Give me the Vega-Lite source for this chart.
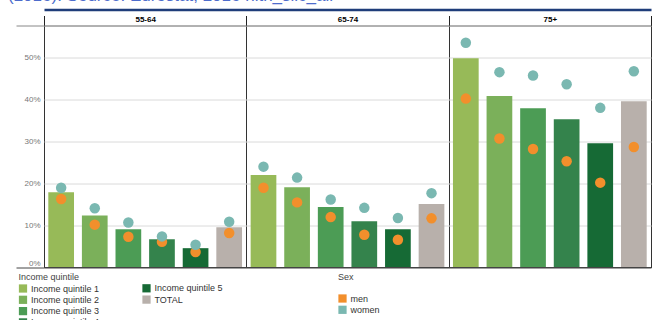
{
  "$schema": "https://vega.github.io/schema/vega-lite/v6.json",
  "width": 607,
  "height": 242,
  "autosize": "none",
  "padding": {"left": 44, "top": 25.5, "right": 6, "bottom": 52.5},
  "background": "white",
  "config": {
    "font": "Liberation Sans",
    "view": {"stroke": null},
    "legend": {
      "labelFont": "Liberation Sans",
      "labelFontSize": 9,
      "labelColor": "#333333",
      "titleFont": "Liberation Sans",
      "titleFontSize": 9,
      "titleFontWeight": "normal",
      "titleColor": "#444444",
      "symbolType": "square",
      "symbolSize": 68,
      "symbolStrokeWidth": 0,
      "padding": 0,
      "rowPadding": 1.3,
      "labelOffset": 3.5,
      "titlePadding": 2,
      "labelLimit": 0,
      "offset": 0
    }
  },
  "title": {
    "text": "(2016). Source: Eurostat, 2016 hlth_silc_all",
    "anchor": "start",
    "frame": "group",
    "dx": -36,
    "dy": 11,
    "fontSize": 17,
    "font": "Liberation Sans",
    "fontWeight": "normal",
    "color": "#4D6CCC",
    "baseline": "alphabetic",
    "offset": 3
  },
  "data": {
    "values": [
      {"age": "55-64", "q": "Income quintile 1", "total": 17.9, "men": 16.3, "women": 19.0},
      {"age": "55-64", "q": "Income quintile 2", "total": 12.4, "men": 10.2, "women": 14.1},
      {"age": "55-64", "q": "Income quintile 3", "total": 9.1, "men": 7.3, "women": 10.7},
      {"age": "55-64", "q": "Income quintile 4", "total": 6.7, "men": 6.1, "women": 7.4},
      {"age": "55-64", "q": "Income quintile 5", "total": 4.6, "men": 3.7, "women": 5.4},
      {"age": "55-64", "q": "TOTAL", "total": 9.6, "men": 8.2, "women": 10.9},
      {"age": "65-74", "q": "Income quintile 1", "total": 22.0, "men": 19.0, "women": 24.0},
      {"age": "65-74", "q": "Income quintile 2", "total": 19.1, "men": 15.5, "women": 21.4},
      {"age": "65-74", "q": "Income quintile 3", "total": 14.4, "men": 12.0, "women": 16.2},
      {"age": "65-74", "q": "Income quintile 4", "total": 11.0, "men": 7.8, "women": 14.2},
      {"age": "65-74", "q": "Income quintile 5", "total": 9.1, "men": 6.6, "women": 11.8},
      {"age": "65-74", "q": "TOTAL", "total": 15.1, "men": 11.7, "women": 17.7},
      {"age": "75+", "q": "Income quintile 1", "total": 49.8, "men": 40.2, "women": 53.5},
      {"age": "75+", "q": "Income quintile 2", "total": 40.8, "men": 30.7, "women": 46.5},
      {"age": "75+", "q": "Income quintile 3", "total": 37.9, "men": 28.2, "women": 45.7},
      {"age": "75+", "q": "Income quintile 4", "total": 35.3, "men": 25.3, "women": 43.6},
      {"age": "75+", "q": "Income quintile 5", "total": 29.6, "men": 20.2, "women": 38.0},
      {"age": "75+", "q": "TOTAL", "total": 39.6, "men": 28.7, "women": 46.7}
    ]
  },
  "layer": [
    {
      "transform": [{"filter": "indexof(['Income quintile 1','Income quintile 2','Income quintile 3','Income quintile 4'], datum.q) >= 0"}],
      "mark": {"type": "bar"},
      "encoding": {
        "x": {
          "field": "age", "type": "nominal",
          "scale": {"paddingInner": 0, "paddingOuter": 0},
          "axis": {"orient": "top", "offset": 16, "domainColor": "#1F3D7A", "domainWidth": 2.5, "ticks": false, "labels": false, "grid": false, "title": null}
        },
        "xOffset": {
          "field": "q", "type": "nominal",
          "scale": {"domain": ["Income quintile 1", "Income quintile 2", "Income quintile 3", "Income quintile 4", "Income quintile 5", "TOTAL"], "paddingInner": 0.235, "paddingOuter": 0.128}
        },
        "y": {
          "field": "total", "type": "quantitative",
          "scale": {"domain": [0, 57.6], "nice": false},
          "axis": {
            "orient": "left",
            "title": null,
            "values": [0, 10, 20, 30, 40, 50, 57.6],
            "labelExpr": "datum.value > 55 ? '' : datum.value + '%'",
            "domain": false,
            "grid": true,
            "gridColor": {"condition": {"test": "datum.value == 0", "value": "#444444"}, "value": "#DADADA"},
            "gridWidth": 1,
            "tickSize": 28,
            "tickColor": {"condition": {"test": "datum.value == 0", "value": "#444444"}, "value": "#888888"},
            "tickOpacity": {"condition": {"test": "datum.value > 0 && datum.value < 55", "value": 0}, "value": 1},
            "labelPadding": -24,
            "labelFontSize": 8,
            "labelColor": "#777777",
            "labelFlush": true
          }
        },
        "color": {
          "field": "q", "type": "nominal",
          "scale": {"domain": ["Income quintile 1", "Income quintile 2", "Income quintile 3", "Income quintile 4"], "range": ["#97BA58", "#7BB05A", "#4C9C55", "#34834C"]},
          "legend": {"title": "Income quintile", "orient": "none", "legendX": -25.5, "legendY": 247.5}
        }
      }
    },
    {
      "transform": [{"filter": "indexof(['Income quintile 5','TOTAL'], datum.q) >= 0"}],
      "mark": {"type": "bar"},
      "encoding": {
        "x": {
          "field": "age", "type": "nominal",
          "axis": {"orient": "top", "title": null, "domainColor": "#777777", "domainWidth": 1, "tickBand": "extent", "ticks": true, "tickSize": 10, "tickColor": "#222222", "tickWidth": 1, "grid": true, "gridColor": "#333333", "gridWidth": 1, "labelFontWeight": "bold", "labelFontSize": 8, "labelColor": "#000000", "labelPadding": -8, "labelAngle": 0}
        },
        "xOffset": {"field": "q", "type": "nominal"},
        "y": {"field": "total", "type": "quantitative"},
        "color": {
          "field": "q", "type": "nominal",
          "scale": {"domain": ["Income quintile 5", "TOTAL"], "range": ["#166A35", "#B8B0AB"]},
          "legend": {"title": null, "orient": "none", "legendX": 98, "legendY": 258.3}
        }
      }
    },
    {
      "transform": [{"fold": ["men", "women"], "as": ["sex", "val"]}],
      "mark": {"type": "circle", "size": 110, "opacity": 1},
      "encoding": {
        "x": {"field": "age", "type": "nominal", "axis": null},
        "xOffset": {"field": "q", "type": "nominal"},
        "y": {"field": "val", "type": "quantitative"},
        "color": {
          "field": "sex", "type": "nominal",
          "scale": {"domain": ["men", "women"], "range": ["#F28F2C", "#7AB8B1"]},
          "legend": {"title": "Sex", "orient": "none", "legendX": 294, "legendY": 247.5, "titlePadding": 12}
        }
      }
    },
    {
      "mark": {"type": "rule", "color": "#444444", "strokeWidth": 1},
      "encoding": {"y": {"datum": 0}}
    }
  ],
  "resolve": {"scale": {"color": "independent"}, "axis": {"x": "independent"}}
}
